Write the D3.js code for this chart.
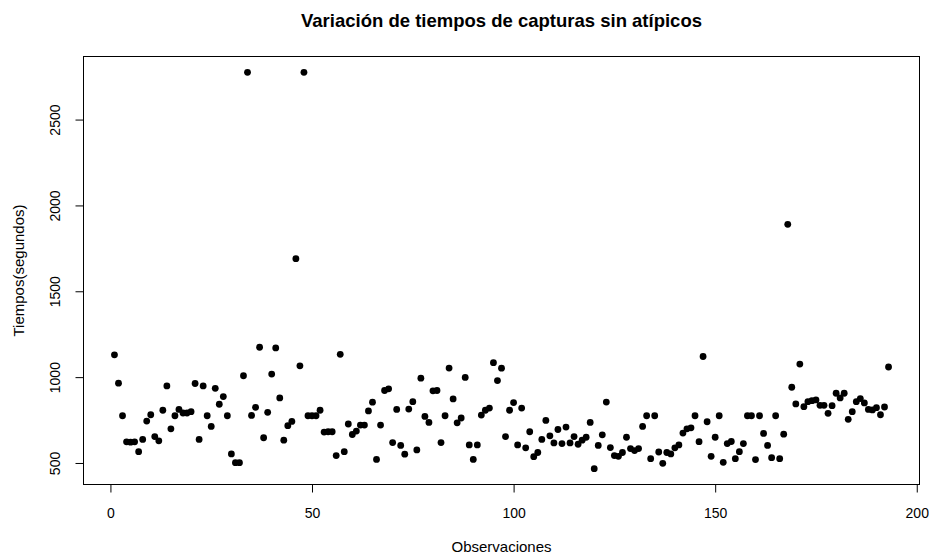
<!DOCTYPE html>
<html>
<head>
<meta charset="utf-8">
<script src="https://cdn.jsdelivr.net/npm/d3@7"></script>
<style>
    body { margin: 0; background: #fff; }
    svg { display: block; font-family: "Liberation Sans", Arial, sans-serif; }
    .tick line { stroke: #000; }
    .tick text { fill: #000; font-size: 14px; }
</style>
</head>
<body>
<svg id="chart" width="929" height="554"></svg>
<script>
/*global d3*/

var titulo = 'Variación de tiempos de capturas sin atípicos',
    etiquetaX = 'Observaciones',
    etiquetaY = 'Tiempos(segundos)',

    // tiempo de cada captura, en el orden de observacion (1..193)
    tiempos = [
        1130, 965, 775, 623, 621, 623, 566, 637, 744, 781,
        654, 629, 807, 949, 699, 775, 812, 791, 791, 799,
        963, 637, 949, 775, 713, 935, 842, 887, 775, 553,
        502, 502, 1008, 2775, 777, 824, 1174, 647, 795, 1018,
        1170, 879, 633, 717, 742, 1690, 1066, 2775, 775, 775,
        775, 807, 680, 682, 682, 543, 1133, 566, 727, 666,
        686, 721, 721, 803, 854, 521, 721, 922, 932, 619,
        812, 602, 551, 814, 857, 576, 994, 771, 736, 920,
        922, 619, 775, 1053, 873, 734, 762, 998, 605, 521,
        605, 779, 807, 820, 1084, 980, 1052, 654, 807, 852,
        605, 820, 588, 682, 537, 561, 637, 748, 658, 617,
        695, 613, 709, 617, 654, 609, 633, 650, 736, 467,
        602, 664, 855, 590, 543, 539, 561, 650, 584, 572,
        584, 713, 775, 525, 775, 564, 498, 561, 553, 588,
        605, 674, 699, 705, 775, 624, 1120, 740, 539, 650,
        775, 504, 613, 625, 525, 566, 613, 775, 775, 520,
        775, 672, 602, 531, 775, 525, 668, 1890, 941, 844,
        1076, 828, 857, 863, 867, 836, 836, 789, 834, 906,
        879, 906, 754, 799, 857, 875, 850, 812, 809, 822,
        781, 826, 1059
    ],

    ticksX = [0, 50, 100, 150, 200],
    ticksY = [500, 1000, 1500, 2000, 2500];

(function () {
    "use strict";

    var svg = d3.select('#chart'),
        margen = {izq: 83.5, der: 919.5, arriba: 56.5, abajo: 484.5},

        // R pads the data range by 4% on each side
        pad = function (ext) {
            var d = (ext[1] - ext[0]) * 0.04;
            return [ext[0] - d, ext[1] + d];
        },

        puntos = tiempos.map(function (t, i) {
            return {obs: i + 1, t: t};
        }),

        x = d3.scaleLinear()
            .domain(pad([1, tiempos.length]))
            .range([margen.izq, margen.der]),

        y = d3.scaleLinear()
            .domain(pad(d3.extent(tiempos)))
            .range([margen.abajo, margen.arriba]),

        ejeX,
        ejeY;

    svg.append('text')
        .attr('x', (margen.izq + margen.der) / 2)
        .attr('y', 27)
        .attr('text-anchor', 'middle')
        .style('font-size', '18.5px')
        .style('font-weight', 'bold')
        .text(titulo);

    ejeX = svg.append('g')
        .attr('transform', 'translate(0,' + margen.abajo + ')')
        .call(d3.axisBottom(x).tickValues(ticksX).tickSize(8).tickFormat(d3.format('d')));

    ejeX.select('.domain').remove();
    ejeX.selectAll('.tick text')
        .attr('y', 33)
        .attr('dy', 0);

    ejeY = svg.append('g')
        .attr('transform', 'translate(' + margen.izq + ',0)')
        .call(d3.axisLeft(y).tickValues(ticksY).tickSize(8).tickFormat(d3.format('d')));

    ejeY.select('.domain').remove();
    ejeY.selectAll('.tick text')
        .attr('transform', 'rotate(-90)')
        .attr('text-anchor', 'middle')
        .attr('x', 0)
        .attr('y', -24)
        .attr('dy', 0);

    svg.append('rect')
        .attr('x', margen.izq)
        .attr('y', margen.arriba)
        .attr('width', margen.der - margen.izq)
        .attr('height', margen.abajo - margen.arriba)
        .attr('fill', 'none')
        .attr('stroke', '#000')
        .attr('stroke-width', 1);

    svg.append('text')
        .attr('x', (margen.izq + margen.der) / 2)
        .attr('y', 552)
        .attr('text-anchor', 'middle')
        .style('font-size', '15px')
        .text(etiquetaX);

    svg.append('text')
        .attr('transform', 'translate(24,' + ((margen.arriba + margen.abajo) / 2) + ')rotate(-90)')
        .attr('text-anchor', 'middle')
        .style('font-size', '15px')
        .text(etiquetaY);

    svg.append('g')
        .selectAll('circle')
        .data(puntos)
        .join('circle')
        .attr('cx', function (d) { return x(d.obs); })
        .attr('cy', function (d) { return y(d.t); })
        .attr('r', 3.4)
        .attr('fill', '#000');
}());
</script>
</body>
</html>
